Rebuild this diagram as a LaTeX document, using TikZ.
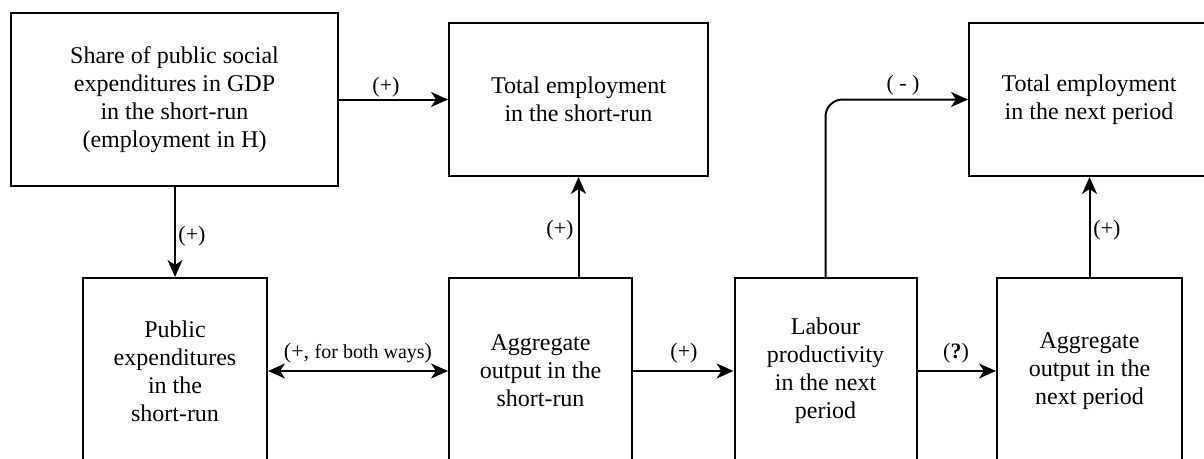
\documentclass[tikz,border=0pt]{standalone}
\usepackage{fontspec}
\setmainfont{Liberation Serif}
\usetikzlibrary{arrows.meta}
\begin{document}
\begin{tikzpicture}[x=1pt,y=-1pt,
  box/.style={draw, line width=2pt, rectangle, inner sep=0pt, align=center,
    font=\fontsize{24}{28}\selectfont},
  tip/.style={Stealth[length=17pt,width=15pt,inset=5pt]},
  conn/.style={line width=2pt, -{Stealth[length=17pt,width=15pt,inset=5pt]}},
  dconn/.style={line width=2pt, {Stealth[length=17pt,width=15pt,inset=5pt]}-{Stealth[length=17pt,width=15pt,inset=5pt]}},
  lbl/.style={font=\fontsize{22}{26}\selectfont, inner sep=0pt}]
\useasboundingbox (0,0) rectangle (1204,458);
\fill[white] (0,0) rectangle (1204,458);
\clip (0,0) rectangle (1204,458);
% top row
\node[box, minimum width=327pt, minimum height=173pt] (A) at (174.5,99.5)
  {Share of public social\\expenditures in GDP\\in the short-run\\(employment in H)};
\node[box, minimum width=259pt, minimum height=153pt] (B) at (578.5,99.5)
  {Total employment\\in the short-run};
\node[box, minimum width=240pt, minimum height=153pt] (C) at (1089,99.5)
  {Total employment\\in the next period};
% bottom row
\node[box, minimum width=184pt, minimum height=186pt] (D) at (175,371)
  {Public\\expenditures\\in the\\short-run};
\node[box, minimum width=183pt, minimum height=186pt] (E) at (540.5,371)
  {Aggregate\\output in the\\short-run};
\node[box, minimum width=182pt, minimum height=186pt] (F) at (825.5,371)
  {Labour\\productivity\\in the next\\period};
\node[box, minimum width=185pt, minimum height=186pt] (G) at (1089.5,371)
  {Aggregate\\output in the\\next period};
% connectors
\draw[conn] (A) -- (B);
\draw[conn] (D.north |- A.south) -- (D.north);
\draw[conn] (B.south |- E.north) -- (B.south);
\draw[dconn] (D) -- (E);
\draw[conn] (E) -- (F);
\draw[conn] (F) -- (G);
\draw[conn, rounded corners=17pt] (F.north) |- (C.west);
\draw[conn] (G.north) -- (G.north |- C.south);
% labels
\node[lbl] (l1) at (386,87) {(+)};
\node[lbl] (l2) at (192,236) {(+)};
\node[lbl] (l3) at (560,230) {(+)};
\node[lbl] (l4) at (358,353) {(+, {\fontsize{20}{24}\selectfont for both ways})};
\node[lbl] (l5) at (684,353) {(+)};
\node[lbl] (l6) at (956,353) {(\textbf{?})};
\node[lbl] (l7) at (903,85) {( - )};
\node[lbl] (l8) at (1107,230) {(+)};
\end{tikzpicture}
\end{document}
